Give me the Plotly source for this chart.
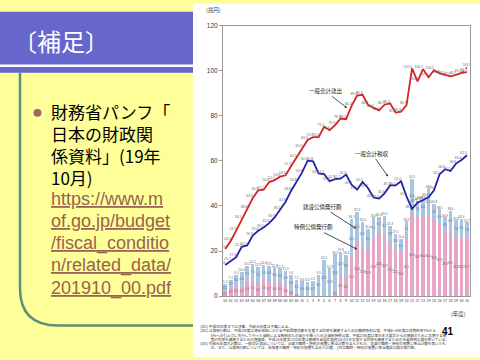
import plotly.graph_objects as go

# ---------------- data ----------------
years = ["50", "51", "52", "53", "54", "55", "56", "57", "58", "59", "60", "61", "62", "63",
         "元", "2", "3", "4", "5", "6", "7", "8", "9", "10", "11", "12", "13", "14", "15",
         "16", "17", "18", "19", "20", "21", "22", "23", "24", "25", "26", "27", "28", "29",
         "30", "元"]

expenditure = [20.9, 24.5, 29.1, 34.1, 38.8, 43.4, 46.9, 47.2, 50.6, 51.5, 53.0, 53.6, 57.7, 61.5,
               65.9, 69.3, 70.5, 70.5, 75.1, 73.6, 75.9, 78.8, 78.5, 84.4, 89.0, 89.3, 84.8, 83.7,
               82.4, 84.9, 85.5, 81.4, 81.8, 84.7, 101.0, 95.3, 100.7, 97.1, 100.2, 98.8, 98.2,
               97.5, 98.1, 99.0, 99.4]
expenditure_r1_incl = 101.5

tax_revenue = [13.8, 15.7, 17.3, 21.9, 22.5, 26.9, 29.0, 30.5, 32.4, 34.9, 38.2, 41.9, 46.8, 50.8,
               54.9, 60.1, 59.8, 54.4, 54.1, 51.0, 51.9, 52.1, 53.9, 49.4, 47.2, 50.7, 47.9, 43.8,
               43.3, 45.6, 49.1, 49.1, 51.0, 44.3, 38.7, 41.5, 42.8, 43.9, 47.0, 54.0, 56.3,
               55.5, 58.8, 60.4, 62.5]

special_bonds = [2.1, 3.5, 4.5, 4.3, 6.3, 7.2, 5.9, 7.0, 6.7, 6.4, 6.0, 5.0, 2.5, 1.0,
                 0.2, 0.0, 0.0, 0.0, 0.0, 0.0, 2.1, 9.1, 8.5, 17.0, 24.3, 21.9, 20.9, 25.8,
                 28.6, 26.8, 23.5, 21.1, 19.4, 26.1, 36.9, 34.7, 36.0, 36.0, 33.8, 31.9, 28.4,
                 29.1, 26.2, 26.2, 25.7]

construction_bonds = [3.2, 3.7, 5.0, 6.3, 7.1, 7.0, 7.0, 7.0, 6.8, 6.4, 6.3, 6.3, 6.9, 6.2,
                      6.4, 6.3, 6.7, 9.5, 16.2, 12.3, 16.4, 10.7, 9.9, 17.1, 13.1, 11.1, 9.1, 9.1,
                      6.7, 8.7, 7.8, 6.4, 6.0, 7.1, 15.0, 7.6, 6.8, 11.5, 7.0, 6.6, 6.5,
                      8.9, 7.4, 8.2, 7.0]

notes = [
    "(注1) 平成30年度までは決算、令和元年度は予算による。",
    "(注2) 公債発行額は、平成2年度は湾岸地域における平和回復活動を支援する財源を調達するための臨時特別公債、平成6～8年度は消費税率3%から",
    "　　　5%への引上げに先行して行った減税による租税収入の減少を補うための減税特例公債、平成23年度は東日本大震災からの復興のために実施する施",
    "　　　策の財源を調達するための復興債、平成24年度及び25年度は基礎年金国庫負担2分の1を実現する財源を調達するための年金特例公債を除いている。",
    "(注3) 令和元年度の計数は、一般会計歳出については、点線が臨時・特別の措置に係る計数を含んだもの、実線が臨時・特別の措置に係る計数を除いたも",
    "　　　の。また、公債発行額については、括弧書が臨時・特別の措置も含めた計数。()内は臨時・特別の措置に係る建設公債の発行額。",
]

bullet_lines = ["財務省パンフ「", "日本の財政関", "係資料」(19年", "10月)"]
link_lines = ["https://www.m", "of.go.jp/budget", "/fiscal_conditio", "n/related_data/", "201910_00.pdf"]

# ---------------- helpers ----------------
W, H = 480, 360
def px(x):
    return x / W
def py(y):
    return 1 - y / H

JP = "Noto Sans CJK JP"
idx = list(range(len(years)))
bond_total = [round(a + b, 1) for a, b in zip(special_bonds, construction_bonds)]
LBL = "#666"

fig = go.Figure()

fig.add_trace(go.Bar(
    x=idx, y=special_bonds, marker=dict(color="#E9A5C6", line=dict(width=0)),
    width=0.66, text=[f"{v:.1f}" if v > 0.5 else "" for v in special_bonds],
    textposition="inside", insidetextanchor="middle", textangle=0, constraintext="none",
    textfont=dict(size=3.0, color=LBL, family="Liberation Sans"),
    hoverinfo="skip", showlegend=False))
fig.add_trace(go.Bar(
    x=idx, y=construction_bonds, marker=dict(color="#A8C6E4", line=dict(width=0)),
    width=0.66, text=[f"{v:.1f}" for v in construction_bonds],
    textposition="inside", insidetextanchor="middle", textangle=0, constraintext="none",
    textfont=dict(size=3.0, color=LBL, family="Liberation Sans"),
    hoverinfo="skip", showlegend=False))
fig.add_trace(go.Scatter(
    x=idx, y=bond_total, mode="text", text=[f"{v:.1f}" for v in bond_total],
    textposition="top center", textfont=dict(size=3.2, color=LBL, family="Liberation Sans"),
    hoverinfo="skip", showlegend=False))

fig.add_trace(go.Scatter(
    x=idx, y=expenditure, mode="lines+text", line=dict(color="#D42424", width=1.8),
    text=[f"{v:.1f}" for v in expenditure], textposition="top left",
    textfont=dict(size=3.4, color=LBL, family="Liberation Sans"),
    hoverinfo="skip", showlegend=False))
fig.add_trace(go.Scatter(
    x=[idx[-2], idx[-1]], y=[expenditure[-2], expenditure_r1_incl], mode="lines+text",
    line=dict(color="#D42424", width=1.2, dash="dot"),
    text=["", f"{expenditure_r1_incl:.1f}"], textposition="top center",
    textfont=dict(size=3.4, color=LBL, family="Liberation Sans"),
    hoverinfo="skip", showlegend=False))
fig.add_trace(go.Scatter(
    x=idx, y=tax_revenue, mode="lines+text", line=dict(color="#2323A8", width=1.8),
    text=[f"{v:.1f}" for v in tax_revenue], textposition="top left",
    textfont=dict(size=3.4, color=LBL, family="Liberation Sans"),
    hoverinfo="skip", showlegend=False))

# ---------------- decorations ----------------
shapes = [
    dict(type="path", xref="paper", yref="paper", layer="below",
         path=f"M {px(20)},{py(70)} L {px(20)},{py(290)} Q {px(20)},{py(328)} {px(58)},{py(328)} L {px(193)},{py(328)}",
         line=dict(color="#5E8F7E", width=2.5)),
    dict(type="rect", xref="paper", yref="paper", layer="below",
         x0=px(193), x1=1, y0=0, y1=1, fillcolor="white", line=dict(width=0)),
    dict(type="rect", xref="paper", yref="paper", layer="below",
         x0=0, x1=px(193), y0=py(70), y1=py(8), fillcolor="#6666CC", line=dict(width=0)),
    dict(type="line", xref="paper", yref="paper", layer="below",
         x0=0, x1=px(193), y0=py(63), y1=py(63), line=dict(color="white", width=2.5)),
    dict(type="circle", xref="paper", yref="paper", layer="above",
         x0=px(33.5), x1=px(41.5), y0=py(115), y1=py(107), fillcolor="#9C6666", line=dict(width=0)),
]

annotations = [
    dict(text="〔補足〕", x=px(11), y=py(37), xref="paper", yref="paper", xanchor="left",
         yanchor="middle", showarrow=False, font=dict(family=JP, size=24, color="white")),
]
for i, t in enumerate(bullet_lines):
    annotations.append(dict(text=t, x=px(49), y=py(110 + 22.3 * i), xref="paper", yref="paper",
                            xanchor="left", yanchor="middle", showarrow=False,
                            font=dict(family=JP, size=17, color="black")))
for i, t in enumerate(link_lines):
    annotations.append(dict(text=t, x=px(49), y=py(199 + 22.7 * i), xref="paper", yref="paper",
                            xanchor="left", yanchor="middle", showarrow=False,
                            font=dict(family="Liberation Sans", size=18, color="#966450",
                                      lineposition="under")))

annotations += [
    dict(text="(兆円)", x=px(204), y=py(6), xref="paper", yref="paper", xanchor="left",
         yanchor="middle", showarrow=False, font=dict(family=JP, size=5.5, color="#333")),
    dict(text="(年度)", x=px(468), y=py(316), xref="paper", yref="paper", xanchor="right",
         yanchor="middle", showarrow=False, font=dict(family=JP, size=5.5, color="#333")),
    dict(text="一般会計歳出", x=px(347), y=py(106), ax=-22, ay=-17, xref="paper", yref="paper",
         showarrow=True, arrowhead=2, arrowsize=0.6, arrowwidth=0.8, arrowcolor="#222",
         font=dict(family=JP, size=5.5, color="#222")),
    dict(text="一般会計税収", x=px(388), y=py(176), ax=-16, ay=-23, xref="paper", yref="paper",
         showarrow=True, arrowhead=2, arrowsize=0.6, arrowwidth=0.8, arrowcolor="#222",
         font=dict(family=JP, size=5.5, color="#222")),
    dict(text="建設公債発行額", x=px(356), y=py(229), ax=-34, ay=-22, xref="paper", yref="paper",
         showarrow=True, arrowhead=2, arrowsize=0.6, arrowwidth=0.8, arrowcolor="#222",
         font=dict(family=JP, size=5.5, color="#222")),
    dict(text="特例公債発行額", x=px(357), y=py(250), ax=-44, ay=-22, xref="paper", yref="paper",
         showarrow=True, arrowhead=2, arrowsize=0.6, arrowwidth=0.8, arrowcolor="#222",
         font=dict(family=JP, size=5.5, color="#222")),
    dict(text="<b>41</b>", x=px(448), y=py(334), xref="paper", yref="paper", xanchor="center",
         yanchor="middle", showarrow=False, font=dict(family="Liberation Sans", size=10, color="black")),
]
for i, t in enumerate(notes):
    annotations.append(dict(text=t, x=px(198), y=py(329 + 4.3 * i), xref="paper", yref="paper",
                            xanchor="left", yanchor="middle", showarrow=False,
                            font=dict(family=JP, size=3.6, color="#333")))

fig.update_layout(
    width=W, height=H, margin=dict(l=0, r=0, t=0, b=0),
    paper_bgcolor="#FFFF99", plot_bgcolor="white",
    barmode="stack", bargap=0.3,
    shapes=shapes, annotations=annotations,
    xaxis=dict(domain=[px(223), px(470)], range=[-0.4, 44.55], tickvals=idx, ticktext=years,
               tickfont=dict(size=3.6, color="#333", family=JP), ticks="", showgrid=False,
               showline=True, linecolor="#999", linewidth=1, mirror=True, zeroline=False,
               tickangle=0, fixedrange=True),
    yaxis=dict(domain=[py(298), py(22)], range=[0, 120], tickvals=[0, 20, 40, 60, 80, 100, 120],
               tickfont=dict(size=6.5, color="#333", family="Liberation Sans"), ticks="outside",
               ticklen=3, tickcolor="#999", showgrid=False, showline=True, linecolor="#999",
               linewidth=1, mirror=True, zeroline=False, fixedrange=True),
    font=dict(family=JP),
)

fig.write_html("out.html", config={"displayModeBar": False, "staticPlot": True},
               post_script="document.body.style.margin='0px';document.body.style.overflow='hidden';")
